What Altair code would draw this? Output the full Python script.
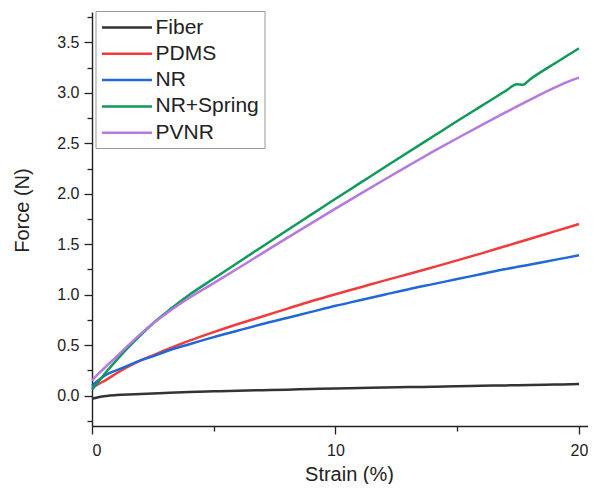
import altair as alt
import pandas as pd

series_names = ["Fiber", "PDMS", "NR", "NR+Spring", "PVNR"]
series_colors = ["#333333", "#f03c3c", "#1f68d6", "#0e9a5a", "#b679e0"]

strain_common = [0, 0.3, 0.6, 1, 1.5, 2, 2.5, 3, 4, 5, 6, 7, 8, 9, 10,
                 11, 12, 13, 14, 15, 16, 17, 18, 19, 20]
fiber = [-0.03, -0.012, -0.002, 0.006, 0.013, 0.018, 0.022, 0.027, 0.036, 0.043,
         0.049, 0.055, 0.060, 0.066, 0.071, 0.076, 0.081, 0.085, 0.089, 0.094,
         0.098, 0.102, 0.106, 0.110, 0.115]
pdms = [0.08, 0.12, 0.16, 0.22, 0.29, 0.35, 0.40, 0.45, 0.545, 0.63, 0.71, 0.785,
        0.86, 0.935, 1.005, 1.072, 1.14, 1.205, 1.272, 1.34, 1.41, 1.482, 1.554,
        1.627, 1.70]
nr = [0.10, 0.16, 0.21, 0.25, 0.30, 0.35, 0.39, 0.435, 0.51, 0.58, 0.645, 0.71,
      0.77, 0.83, 0.89, 0.945, 1.0, 1.055, 1.105, 1.155, 1.205, 1.255, 1.30,
      1.345, 1.39]
pvnr_strain = [0, 0.3, 0.6, 1, 1.5, 2, 2.5, 3, 3.5, 4, 5, 6, 7, 8, 9, 10, 11, 12,
               13, 14, 15, 16, 17, 18, 19, 19.6, 20]
pvnr = [0.15, 0.225, 0.295, 0.385, 0.50, 0.612, 0.715, 0.805, 0.89, 0.97, 1.115,
        1.262, 1.412, 1.56, 1.707, 1.853, 1.997, 2.139, 2.279, 2.417, 2.55, 2.68,
        2.808, 2.932, 3.05, 3.115, 3.15]
spring_strain = [0, 0.3, 0.6, 1, 1.5, 2, 2.5, 3, 3.5, 4, 5, 6, 7, 8, 9, 10, 11, 12,
                 13, 14, 15, 16, 17, 17.45, 17.7, 18, 19, 20]
nr_spring = [0.06, 0.15, 0.24, 0.35, 0.48, 0.60, 0.715, 0.815, 0.91, 1.0, 1.16, 1.32,
             1.478, 1.636, 1.793, 1.95, 2.105, 2.26, 2.414, 2.567, 2.72, 2.87,
             3.02, 3.085, 3.08, 3.135, 3.29, 3.44]

x_major = [0, 10, 20]
x_minor = [5, 15]
y_major = [0.0, 0.5, 1.0, 1.5, 2.0, 2.5, 3.0, 3.5]
y_minor = [-0.25, 0.25, 0.75, 1.25, 1.75, 2.25, 2.75, 3.25, 3.75]

rows = []
for name, xs, ys in [("Fiber", strain_common, fiber), ("PDMS", strain_common, pdms),
                     ("NR", strain_common, nr), ("NR+Spring", spring_strain, nr_spring),
                     ("PVNR", pvnr_strain, pvnr)]:
    for i, (sx, fy) in enumerate(zip(xs, ys)):
        rows.append({"series": name, "strain": sx, "force": fy, "idx": i})
df = pd.DataFrame(rows)

FONT = "Liberation Sans"
xscale = alt.Scale(domain=[0, 20.37], nice=False, zero=False)
yscale = alt.Scale(domain=[-0.3, 3.8], nice=False, zero=False)

lines = alt.Chart(df).mark_line(strokeWidth=2.5, interpolate="monotone").encode(
    x=alt.X("strain:Q", scale=xscale,
            axis=alt.Axis(values=x_major, format="d", tickSize=8, labelPadding=8,
                          labelFontSize=16, title="Strain (%)", titleFontSize=20,
                          titleFontWeight="normal", titleBaseline="alphabetic",
                          titleX=257, titleY=54, orient="bottom")),
    y=alt.Y("force:Q", scale=yscale,
            axis=alt.Axis(values=y_major, format=".1f", tickSize=8, labelPadding=5,
                          labelFontSize=16, title="Force (N)", titleFontSize=20,
                          titleFontWeight="normal", titleBaseline="alphabetic",
                          titleX=-64, titleY=198, titleAlign="center", orient="left")),
    color=alt.Color("series:N",
                    scale=alt.Scale(domain=series_names, range=series_colors),
                    legend=alt.Legend(title=None, orient="none", legendX=3.5, legendY=-1,
                                      symbolType="M-1,0H4", symbolSize=400,
                                      symbolStrokeWidth=2.5, labelFontSize=21,
                                      labelFont=FONT, labelColor="#222222",
                                      labelOffset=32, rowPadding=4.3, padding=5,
                                      strokeColor="#999999", fillColor="white")),
    detail="series:N",
    order="idx:Q",
)

minor = alt.Chart(df).mark_point(opacity=0).encode(
    x=alt.X("strain:Q", scale=xscale,
            axis=alt.Axis(values=x_minor, tickSize=5, labels=False, domain=False,
                          title=None, orient="bottom")),
    y=alt.Y("force:Q", scale=yscale,
            axis=alt.Axis(values=y_minor, tickSize=5, labels=False, domain=False,
                          title=None, orient="left")),
)

chart = alt.layer(minor, lines).resolve_axis(x="independent", y="independent").properties(
    width=496, height=414,
    autosize=alt.AutoSizeParams(type="none"),
    padding={"left": 84, "top": 4, "right": 0, "bottom": 58},
).configure_view(stroke=None).configure_axis(
    grid=False, domainColor="#222222", domainWidth=1.4, tickColor="#222222",
    tickWidth=1.3, labelColor="#222222", titleColor="#222222",
    labelFont=FONT, titleFont=FONT,
)

chart.save("out.html", embed_options={"renderer": "svg", "actions": False})
